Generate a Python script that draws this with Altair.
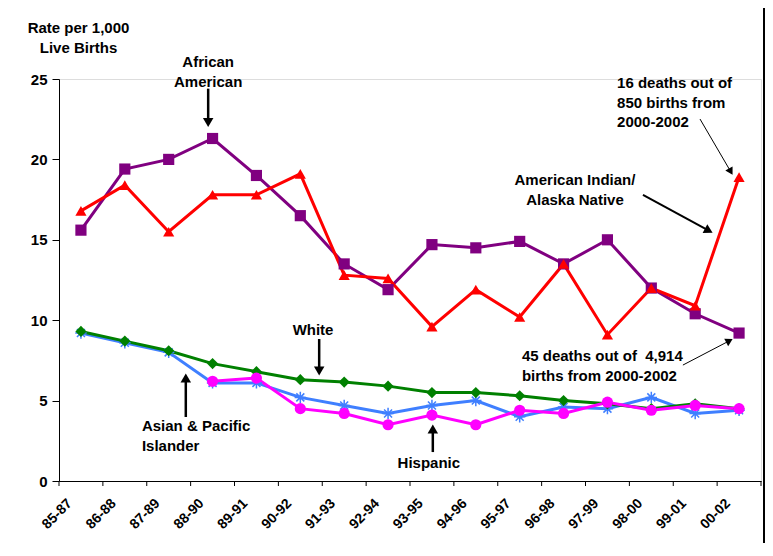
import altair as alt
import pandas as pd

periods = ["85-87", "86-88", "87-89", "88-90", "89-91", "90-92", "91-93", "92-94",
           "93-95", "94-96", "95-97", "96-98", "97-99", "98-00", "99-01", "00-02"]

african_american = [15.6, 19.4, 20.0, 21.3, 19.0, 16.5, 13.5, 11.9, 14.7, 14.5, 14.9, 13.5, 15.0, 12.0, 10.4, 9.2]
american_indian = [16.8, 18.4, 15.5, 17.8, 17.8, 19.1, 12.8, 12.6, 9.6, 11.9, 10.2, 13.5, 9.1, 12.0, 10.9, 18.9]
white = [9.3, 8.7, 8.1, 7.3, 6.8, 6.3, 6.15, 5.9, 5.5, 5.5, 5.3, 5.0, 4.8, 4.5, 4.8, 4.5]
asian_pi = [9.2, 8.6, 8.0, 6.1, 6.1, 5.2, 4.7, 4.2, 4.7, 5.0, 4.0, 4.6, 4.5, 5.2, 4.2, 4.4]
hispanic = [None, None, None, 6.2, 6.4, 4.5, 4.2, 3.5, 4.1, 3.5, 4.4, 4.2, 4.9, 4.4, 4.7, 4.5]

series_names = ["Asian & Pacific Islander", "White", "African American", "American Indian/Alaska Native", "Hispanic"]
series_values = [asian_pi, white, african_american, american_indian, hispanic]
series_colors = ["#3F7FFF", "#008000", "#800080", "#FF0000", "#FF00FF"]
series_shapes = ["cross", "diamond", "square", "triangle-up", "circle"]

rows = []
for name, vals in zip(series_names, series_values):
    for i, v in enumerate(vals):
        if v is not None:
            rows.append({"series": name, "idx": i + 0.5, "period": periods[i], "rate": v})
df = pd.DataFrame(rows)

W, H = 702, 402
FONT = "Liberation Sans"

label_expr = "[" + ",".join("'%s'" % p for p in periods) + "][floor(datum.value)]"

x_enc = alt.X("idx:Q", scale=alt.Scale(domain=[0, 16], nice=False, zero=False),
              axis=alt.Axis(values=[i + 0.24 for i in range(16)], labelExpr=label_expr,
                            labelAngle=-45, labelFont=FONT, labelFontWeight="bold",
                            labelFontSize=14, labelColor="black", tickSize=0,
                            labelPadding=20, labelAlign="right", labelBaseline="middle",
                            labelOverlap=False, labelBound=False,
                            domainColor="black", grid=False, title=None))
y_enc = alt.Y("rate:Q", scale=alt.Scale(domain=[0, 25], nice=False),
              axis=alt.Axis(values=[0, 5, 10, 15, 20, 25], labelFont=FONT, labelFontWeight="bold",
                            labelFontSize=15, labelColor="black", tickColor="black", tickSize=7,
                            domainColor="black", grid=False, labelPadding=5,
                            title=["Rate per 1,000", "Live Births"], titleAngle=0,
                            titleFont=FONT, titleFontWeight="bold", titleFontSize=15,
                            titleLineHeight=20,
                            titleColor="black", titleAlign="center", titleBaseline="alphabetic",
                            titleX=19, titleY=-47))

color_scale = alt.Scale(domain=series_names, range=series_colors)
shape_scale = alt.Scale(domain=series_names, range=series_shapes)

base = alt.Chart(df)
lines = base.mark_line(strokeWidth=3).encode(
    x=x_enc, y=y_enc,
    color=alt.Color("series:N", scale=color_scale, legend=None),
    detail="series:N",
)

filled_pts = base.transform_filter(alt.datum.series != "Asian & Pacific Islander").mark_point(
    filled=True, opacity=1, size=125).encode(
    x="idx:Q", y="rate:Q",
    color=alt.Color("series:N", scale=color_scale, legend=None),
    shape=alt.Shape("series:N", scale=shape_scale, legend=None),
)

star_path = "M-1,0L1,0M0,-1L0,1M-0.7,-0.7L0.7,0.7M-0.7,0.7L0.7,-0.7"
stars = base.transform_filter(alt.datum.series == "Asian & Pacific Islander").mark_point(
    shape=star_path, filled=False, size=130, strokeWidth=1.5, color="#3F7FFF", opacity=1).encode(
    x="idx:Q", y="rate:Q")

# x tick marks at period boundaries
ticks_df = pd.DataFrame({"t": list(range(17))})
ticks = alt.Chart(ticks_df).mark_rule(color="black", strokeWidth=1).encode(
    x="t:Q", y=alt.value(H), y2=alt.value(H + 5))

# annotation texts (data units)
ann_text = pd.DataFrame([
    {"x": 3.40, "y": 26.06, "t": "African", "a": "center"},
    {"x": 3.40, "y": 24.81, "t": "American", "a": "center"},
    {"x": 5.79, "y": 9.39, "t": "White", "a": "center"},
    {"x": 1.89, "y": 3.42, "t": "Asian & Pacific", "a": "left"},
    {"x": 1.89, "y": 2.18, "t": "Islander", "a": "left"},
    {"x": 8.43, "y": 1.12, "t": "Hispanic", "a": "center"},
    {"x": 11.76, "y": 18.72, "t": "American Indian/", "a": "center"},
    {"x": 11.76, "y": 17.48, "t": "Alaska Native", "a": "center"},
    {"x": 12.72, "y": 24.75, "t": "16 deaths out of", "a": "left"},
    {"x": 12.72, "y": 23.51, "t": "850 births from", "a": "left"},
    {"x": 12.72, "y": 22.33, "t": "2000-2002", "a": "left"},
    {"x": 10.55, "y": 7.77, "t": "45 deaths out of \u00a04,914", "a": "left"},
    {"x": 10.55, "y": 6.53, "t": "births from 2000-2002", "a": "left"},
])
texts = []
for al in ["center", "left"]:
    texts.append(alt.Chart(ann_text[ann_text.a == al]).mark_text(
        align=al, baseline="middle", font=FONT, fontWeight="bold", fontSize=15, color="black").encode(
        x="x:Q", y="y:Q", text="t:N"))

# arrows: shaft + head
arrows = pd.DataFrame([
    {"x": 3.40, "y": 24.4, "x2": 3.40, "y2": 22.3, "hx": 3.40, "hy": 22.3, "ang": 180, "w": 2.5, "s": 110},
    {"x": 5.93, "y": 8.83, "x2": 5.93, "y2": 6.84, "hx": 5.93, "hy": 6.84, "ang": 180, "w": 2.5, "s": 110},
    {"x": 2.89, "y": 3.98, "x2": 2.89, "y2": 6.41, "hx": 2.89, "hy": 6.41, "ang": 0, "w": 2.5, "s": 110},
    {"x": 8.52, "y": 1.80, "x2": 8.52, "y2": 3.23, "hx": 8.52, "hy": 3.23, "ang": 0, "w": 2.5, "s": 110},
    {"x": 13.31, "y": 17.79, "x2": 14.81, "y2": 15.57, "hx": 14.81, "hy": 15.57, "ang": 118, "w": 2, "s": 100},
    {"x": 14.61, "y": 22.51, "x2": 15.31, "y2": 19.24, "hx": 15.31, "hy": 19.24, "ang": 150, "w": 1, "s": 70},
    {"x": 14.22, "y": 7.21, "x2": 15.28, "y2": 8.72, "hx": 15.28, "hy": 8.72, "ang": 62, "w": 1, "s": 70},
])
shafts = alt.Chart(arrows).mark_rule(color="black").encode(
    x="x:Q", y="y:Q", x2="x2:Q", y2="y2:Q",
    strokeWidth=alt.StrokeWidth("w:Q", scale=None))
heads = alt.Chart(arrows).mark_point(shape="triangle-up", filled=True, color="black", opacity=1).encode(
    x="hx:Q", y="hy:Q", angle=alt.Angle("ang:Q", scale=None),
    size=alt.Size("s:Q", scale=None))

border = alt.Chart(ticks_df).mark_rule(color="black", strokeWidth=1.5).encode(
    x=alt.value(W + 3), y=alt.value(-71), y2=alt.value(H + 80))

chart = alt.layer(lines, stars, filled_pts, ticks, shafts, heads, *texts, border).properties(
    width=W, height=H,
    autosize=alt.AutoSizeParams(type="none"),
    padding={"left": 51, "top": 71, "right": 4, "bottom": 62},
).configure_view(stroke=None).configure(background="white")

chart.save("out.html", embed_options={"renderer": "svg", "actions": False})
